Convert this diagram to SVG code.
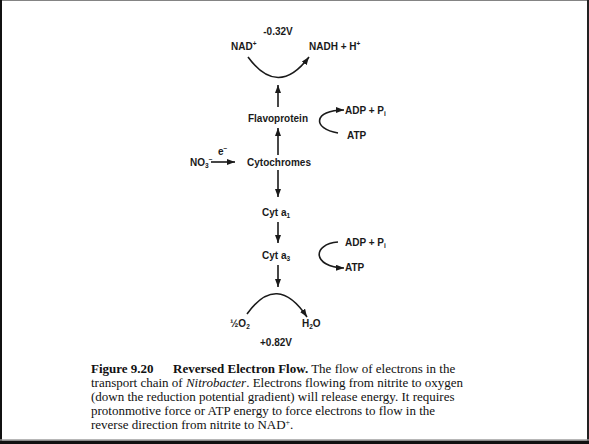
<svg xmlns="http://www.w3.org/2000/svg" width="589" height="444" viewBox="0 0 589 444">
<defs>
<style>
.lb{font-family:"Liberation Sans",Arial,sans-serif;font-size:10px;font-weight:bold;fill:#1a1a1a}
.cap{font-family:"Liberation Serif","Times New Roman",serif;font-size:13px;fill:#111}
.ln{fill:none;stroke:#1a1a1a;stroke-width:1.6}
.sm{font-size:6.5px}
</style>
<marker id="ah" markerUnits="userSpaceOnUse" markerWidth="9" markerHeight="7" refX="8" refY="3" orient="auto">
<path d="M0,0 L8,3 L0,6 z" fill="#1a1a1a"/>
</marker>
</defs>
<rect width="589" height="444" fill="#fff"/>
<g id="frame">
<rect x="0" y="0" width="589" height="0.8" fill="#666"/>
<rect x="0" y="0" width="2" height="444" fill="#111"/>
<rect x="587" y="0" width="2" height="444" fill="#222"/>
<rect x="0" y="439.3" width="589" height="1.5" fill="#999"/>
<rect x="0" y="440.8" width="589" height="3.2" fill="#111"/>
</g>
<g id="connectors">
<path class="ln" d="M248,57 Q278,98 309,57" marker-end="url(#ah)"/>
<line class="ln" x1="278" y1="107" x2="278" y2="85" marker-end="url(#ah)"/>
<line class="ln" x1="278" y1="155" x2="278" y2="128" marker-end="url(#ah)"/>
<line class="ln" x1="278" y1="170" x2="278" y2="197" marker-end="url(#ah)"/>
<line class="ln" x1="278" y1="222" x2="278" y2="243" marker-end="url(#ah)"/>
<line class="ln" x1="278" y1="265" x2="278" y2="287" marker-end="url(#ah)"/>
<line class="ln" x1="211" y1="162" x2="235" y2="162" marker-end="url(#ah)"/>
<path class="ln" d="M338,133 C312,129 313,110 344,110" marker-end="url(#ah)"/>
<path class="ln" d="M338,242 C312,244 312,267 344,268" marker-end="url(#ah)"/>
<path class="ln" d="M247,314 Q277,272 307,317" marker-end="url(#ah)"/>
</g>
<g id="potential-top"><text class="lb" x="278" y="35" text-anchor="middle">-0.32V</text></g>
<g id="nad"><text class="lb" x="231" y="50">NAD<tspan class="sm" dy="-4">+</tspan></text></g>
<g id="nadh"><text class="lb" x="309" y="50">NADH + H<tspan class="sm" dy="-4">+</tspan></text></g>
<g id="flavoprotein"><text class="lb" x="278" y="122" text-anchor="middle">Flavoprotein</text></g>
<g id="adp-top"><text class="lb" x="345" y="114">ADP + P<tspan class="sm" dy="2">i</tspan></text></g>
<g id="atp-top"><text class="lb" x="347" y="139">ATP</text></g>
<g id="nitrite"><text class="lb" x="190" y="166">NO<tspan class="sm" dy="2">3</tspan><tspan class="sm" dy="-6">−</tspan></text>
<text class="lb" x="218" y="155">e<tspan class="sm" dy="-4">−</tspan></text></g>
<g id="cytochromes"><text class="lb" x="279" y="166" text-anchor="middle">Cytochromes</text></g>
<g id="cyt-a1"><text class="lb" x="262" y="216">Cyt  a<tspan class="sm" dy="2">1</tspan></text></g>
<g id="cyt-a3"><text class="lb" x="262" y="259">Cyt  a<tspan class="sm" dy="2">3</tspan></text></g>
<g id="adp-bottom"><text class="lb" x="345" y="246">ADP + P<tspan class="sm" dy="2">i</tspan></text></g>
<g id="atp-bottom"><text class="lb" x="345" y="271">ATP</text></g>
<g id="oxygen"><text class="lb" x="230" y="327">½O<tspan class="sm" dy="2">2</tspan></text></g>
<g id="water"><text class="lb" x="302" y="327">H<tspan class="sm" dy="2">2</tspan><tspan dy="-2">O</tspan></text></g>
<g id="potential-bottom"><text class="lb" x="276" y="346" text-anchor="middle">+0.82V</text></g>
<g id="caption">
<text class="cap" x="91" y="373"><tspan font-weight="bold">Figure 9.20</tspan><tspan x="173" font-weight="bold">Reversed Electron Flow.</tspan> The flow of electrons in the</text>
<text class="cap" x="91" y="387">transport chain of <tspan font-style="italic">Nitrobacter</tspan>. Electrons flowing from nitrite to oxygen</text>
<text class="cap" x="91" y="401">(down the reduction potential gradient) will release energy. It requires</text>
<text class="cap" x="91" y="415">protonmotive force or ATP energy to force electrons to flow in the</text>
<text class="cap" x="91" y="429">reverse direction from nitrite to NAD<tspan font-size="8" dy="-4">+</tspan><tspan dy="4">.</tspan></text>
</g>
</svg>
